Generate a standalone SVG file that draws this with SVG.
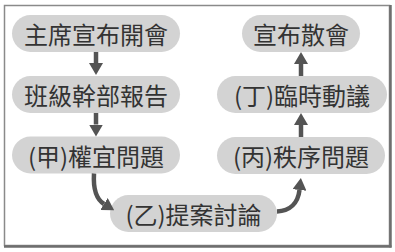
<svg xmlns="http://www.w3.org/2000/svg" width="395" height="252" viewBox="0 0 395 252">
<style>
.pill{fill:#d3d3d3;}
.lbl{font-family:"Noto Sans CJK TC","Noto Sans CJK SC",sans-serif;font-size:24px;fill:#333;text-anchor:middle;dominant-baseline:central;}
.arr{fill:none;stroke:#545454;stroke-width:4.5;}
</style>
<defs>
<marker id="ah" markerUnits="userSpaceOnUse" markerWidth="12" markerHeight="14" viewBox="0 0 12 14" refX="0" refY="7" orient="auto">
<path d="M0,0 L12,7 L0,14 Z" fill="#545454"/>
</marker>
</defs>
<rect x="0" y="0" width="395" height="252" fill="#fff"/>
<g id="frame">
<rect x="4.5" y="5.5" width="385" height="240" fill="none" stroke="#8a8a8a" stroke-width="1.5"/>
<line x1="390.5" y1="5" x2="390.5" y2="247.5" stroke="#6e6e6e" stroke-width="2.5"/>
<line x1="4" y1="246.5" x2="391.5" y2="246.5" stroke="#6e6e6e" stroke-width="2.5"/>
</g>
<g id="n1"><rect class="pill" x="12" y="15" width="168" height="37" rx="18.5"/><text class="lbl" x="96" y="33.5">主席宣布開會</text></g>
<g id="n2"><rect class="pill" x="12" y="76" width="168" height="37" rx="18.5"/><text class="lbl" x="96" y="94.5">班級幹部報告</text></g>
<g id="n3"><rect class="pill" x="12" y="136.5" width="168" height="37" rx="18.5"/><text class="lbl" x="96" y="155">(甲)權宜問題</text></g>
<g id="n4"><rect class="pill" x="110" y="195" width="167" height="37" rx="18.5"/><text class="lbl" x="193.5" y="213.5">(乙)提案討論</text></g>
<g id="n5"><rect class="pill" x="217" y="137" width="168" height="37" rx="18.5"/><text class="lbl" x="301" y="155.5">(丙)秩序問題</text></g>
<g id="n6"><rect class="pill" x="217" y="76" width="170" height="37" rx="18.5"/><text class="lbl" x="302" y="94.5">(丁)臨時動議</text></g>
<g id="n7"><rect class="pill" x="242" y="15" width="118" height="37" rx="18.5"/><text class="lbl" x="301" y="33.5">宣布散會</text></g>
<g id="connectors">
<path class="arr" d="M96,52 L96,63" marker-end="url(#ah)"/>
<path class="arr" d="M96,113 L96,124.5" marker-end="url(#ah)"/>
<path class="arr" d="M94,173.5 C93,190 96,199 104,204" marker-end="url(#ah)"/>
<path class="arr" d="M277,211.5 C290,211 298,203 299.5,190" marker-end="url(#ah)"/>
<path class="arr" d="M301,137 L301,125" marker-end="url(#ah)"/>
<path class="arr" d="M301,76 L301,64" marker-end="url(#ah)"/>
</g>
</svg>
